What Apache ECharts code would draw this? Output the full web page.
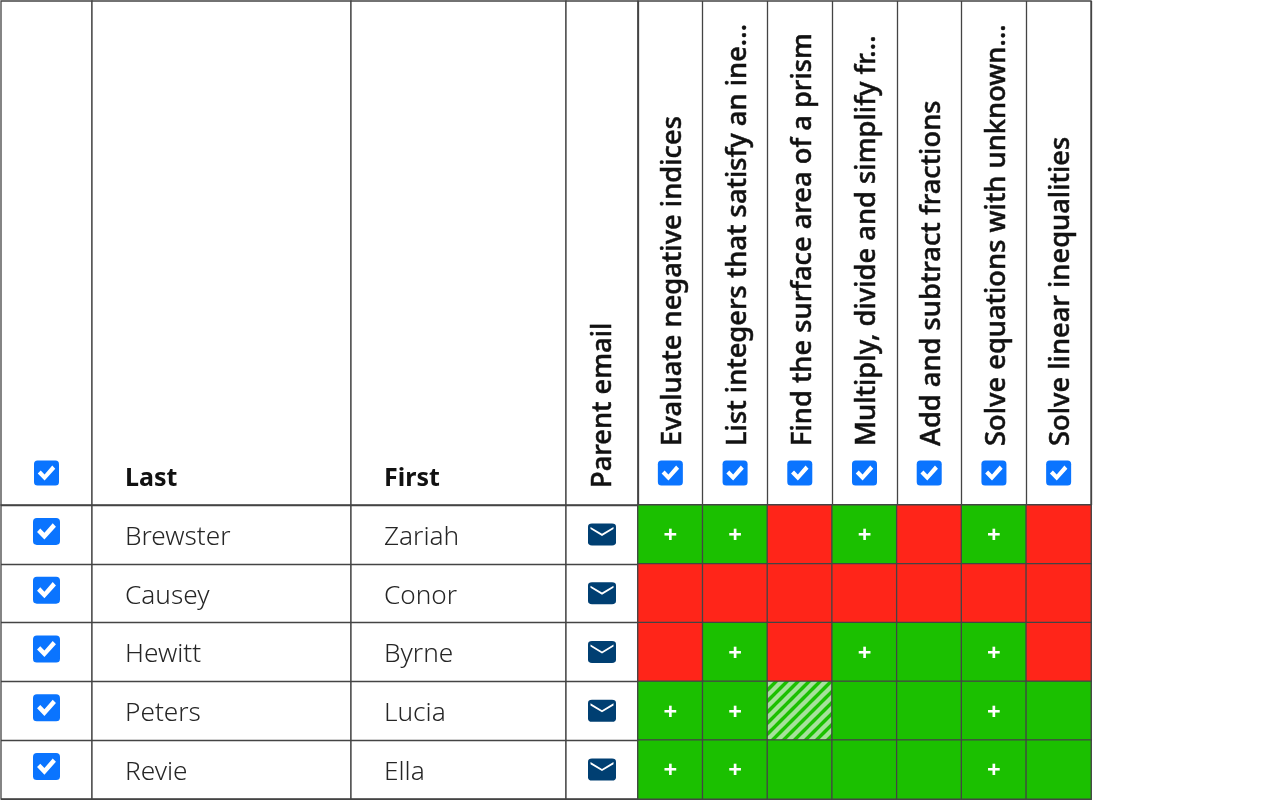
<!DOCTYPE html>
<html>
<head>
<meta charset="utf-8">
<script src="https://cdn.jsdelivr.net/npm/echarts@6/dist/echarts.min.js"></script>
<style>
  html, body { margin: 0; padding: 0; background: #fff; }
  #main { width: 1280px; height: 800px; }
</style>
</head>
<body>
<div id="main"></div>
<script>
// Class markbook: students against skills
var lastNames = ['Brewster', 'Causey', 'Hewitt', 'Peters', 'Revie'];
var firstNames = ['Zariah', 'Conor', 'Byrne', 'Lucia', 'Ella'];
var skills = [
    'Evaluate negative indices',
    'List integers that satisfy an ine...',
    'Find the surface area of a prism',
    'Multiply, divide and simplify fr...',
    'Add and subtract fractions',
    'Solve equations with unknown...',
    'Solve linear inequalities'
];
// 0 = not secure, 1 = secure, 2 = striped (in progress)
var skillStatus = [
    [1, 1, 0, 1, 0, 1, 0],
    [0, 0, 0, 0, 0, 0, 0],
    [0, 1, 0, 1, 1, 1, 0],
    [1, 1, 2, 1, 1, 1, 1],
    [1, 1, 1, 1, 1, 1, 1]
];
// 1 = cell carries a plus sign
var plusMarks = [
    [1, 1, 0, 1, 0, 1, 0],
    [0, 0, 0, 0, 0, 0, 0],
    [0, 1, 0, 1, 0, 1, 0],
    [1, 1, 0, 0, 0, 1, 0],
    [1, 1, 0, 0, 0, 1, 0]
];

var RED = '#ff2519', GREEN = '#1bc000', BLUE = '#0a74ff', NAVY = '#003f72', LINE = '#444444';
var FONT = '"Noto Sans", sans-serif';
var headH = 505, bodyH = 294;
var boxPath = 'path://M4 0H24A4 4 0 0 1 28 4V24A4 4 0 0 1 24 28H4A4 4 0 0 1 0 24V4A4 4 0 0 1 4 0Z';
var tickPath = 'path://M0 9L3.5 5.5L8 10L17 0L20.5 3.5L8 17Z';
var mailPath = 'path://M0 0L12 8L24 0V2.4L12 10.4L0 2.4Z';

function hatch() {
    var c = document.createElement('canvas');
    c.width = c.height = 11;
    var g = c.getContext('2d');
    g.fillStyle = GREEN;
    g.fillRect(0, 0, 11, 11);
    g.strokeStyle = '#a6e29b';
    g.lineWidth = 4.4;
    [[-11, 11, 11, -11], [0, 11, 11, 0], [0, 22, 22, 0]].forEach(function (p) {
        g.beginPath();
        g.moveTo(p[0], p[1]);
        g.lineTo(p[2], p[3]);
        g.stroke();
    });
    return { image: c, repeat: 'repeat' };
}
var hatchFill = hatch();

var cells = [];
skillStatus.forEach(function (row, r) {
    row.forEach(function (s, c) {
        cells.push({
            value: [c, r, s, plusMarks[r][c]],
            itemStyle: { color: s === 0 ? RED : s === 1 ? GREEN : hatchFill, borderColor: LINE, borderWidth: 1.3 }
        });
    });
});

var sections = [
    { left: 1, width: 91 },
    { left: 92, width: 259 },
    { left: 351, width: 215 },
    { left: 566, width: 72 },
    { left: 638, width: 453 }
];

var grids = [], xAxes = [], yAxes = [], series = [];
var splitLine = { show: true, interval: 0, lineStyle: { color: LINE, width: 1.3 } };

function addGrid(sec, top, height, x, y) {
    grids.push({ left: sec.left, width: sec.width, top: top, height: height, show: true, borderColor: LINE, borderWidth: 1.3, backgroundColor: '#fff' });
    var i = grids.length - 1;
    x.gridIndex = i;
    y.gridIndex = i;
    xAxes.push(x);
    yAxes.push(y);
    return i;
}

function hiddenCat(data) {
    return { type: 'category', data: data, inverse: false, axisLine: { show: false }, axisTick: { show: false }, axisLabel: { show: false } };
}

function rowAxis(labels) {
    return {
        type: 'category', inverse: true, data: labels,
        axisLine: { show: false }, axisTick: { show: false }, splitLine: splitLine,
        // top-aligned with a short line box nudges the names just below the row centre
        axisLabel: { inside: true, margin: 33, interval: 0, verticalAlign: 'top', lineHeight: 6, color: '#262626', fontFamily: FONT, fontSize: 26.2, fontWeight: 300 }
    };
}

function headY() {
    return { type: 'value', min: 0, max: headH, show: false };
}

function addBoxes(i, data, size, offset) {
    series.push({
        type: 'scatter', xAxisIndex: i, yAxisIndex: i, data: data, silent: true,
        symbol: boxPath, symbolSize: size, symbolOffset: [0, offset], itemStyle: { color: BLUE, opacity: 1 }
    });
    series.push({
        type: 'scatter', xAxisIndex: i, yAxisIndex: i, data: data, silent: true, z: 3,
        symbol: tickPath, symbolSize: [size * 0.7, size * 0.6], symbolOffset: [0, offset], itemStyle: { color: '#fff', opacity: 1 }
    });
}

var rowIdx = lastNames.map(function (n, r) { return [0, r]; });

// body: tick column
var i0 = addGrid(sections[0], headH, bodyH, hiddenCat(['']), rowAxis(['', '', '', '', '']));
addBoxes(i0, rowIdx, 27, -3);

// body: names
addGrid(sections[1], headH, bodyH, hiddenCat(['']), rowAxis(lastNames));
addGrid(sections[2], headH, bodyH, hiddenCat(['']), rowAxis(firstNames));

// body: parent email
var i3 = addGrid(sections[3], headH, bodyH, hiddenCat(['']), rowAxis(['', '', '', '', '']));
series.push({
    type: 'scatter', xAxisIndex: i3, yAxisIndex: i3, data: rowIdx, silent: true,
    symbol: boxPath, symbolSize: [28, 22], itemStyle: { color: NAVY, opacity: 1 }
});
series.push({
    type: 'scatter', xAxisIndex: i3, yAxisIndex: i3, data: rowIdx, silent: true, z: 3,
    symbol: mailPath, symbolSize: [23, 9], symbolOffset: [0, -3], itemStyle: { color: '#fff', opacity: 1 }
});

// body: skill matrix
var i4 = addGrid(sections[4], headH, bodyH, hiddenCat(skills),
    { type: 'category', inverse: true, data: lastNames, axisLine: { show: false }, axisTick: { show: false }, axisLabel: { show: false } });
series.push({
    type: 'heatmap', xAxisIndex: i4, yAxisIndex: i4, data: cells, silent: true,
    label: {
        show: true, color: '#fff', fontFamily: FONT, fontSize: 24, fontWeight: 'bold', offset: [0, 2],
        formatter: function (p) { return p.value[3] ? '+' : ''; }
    }
});

// header cells
var h0 = addGrid(sections[0], 1, headH - 1, hiddenCat(['']), headY());
addBoxes(h0, [[0, 32]], 25, 0);
addGrid(sections[1], 1, headH - 1, hiddenCat(['']), headY());
addGrid(sections[2], 1, headH - 1, hiddenCat(['']), headY());

function headLabels(margin, lineHeight) {
    return {
        show: true, inside: true, rotate: 90, margin: margin, interval: 0, verticalAlign: 'top', lineHeight: lineHeight,
        color: '#111', textBorderColor: '#111', textBorderWidth: 0.5, fontFamily: FONT, fontSize: 27.3, fontWeight: 500
    };
}
addGrid(sections[3], 1, headH - 1,
    { type: 'category', data: ['Parent email'], axisLine: { show: false }, axisTick: { show: false }, axisLabel: headLabels(17, 2) },
    headY());

var h4 = addGrid(sections[4], 1, headH - 1,
    { type: 'category', data: skills, axisLine: { show: false }, axisTick: { show: false }, splitLine: splitLine, axisLabel: headLabels(59, 6) },
    headY());
addBoxes(h4, skills.map(function (s, c) { return [c, 32]; }), 25, 0);

var nameTitle = { color: '#111', fontFamily: FONT, fontSize: 25, fontWeight: 'bold' };

var chart = echarts.init(document.getElementById('main'));
chart.setOption({
    animation: false,
    backgroundColor: '#fff',
    title: [
        { text: 'Last', left: 125, top: 466, padding: 0, textStyle: nameTitle },
        { text: 'First', left: 384, top: 466, padding: 0, textStyle: nameTitle }
    ],
    grid: grids,
    xAxis: xAxes,
    yAxis: yAxes,
    series: series
});
</script>
</body>
</html>
